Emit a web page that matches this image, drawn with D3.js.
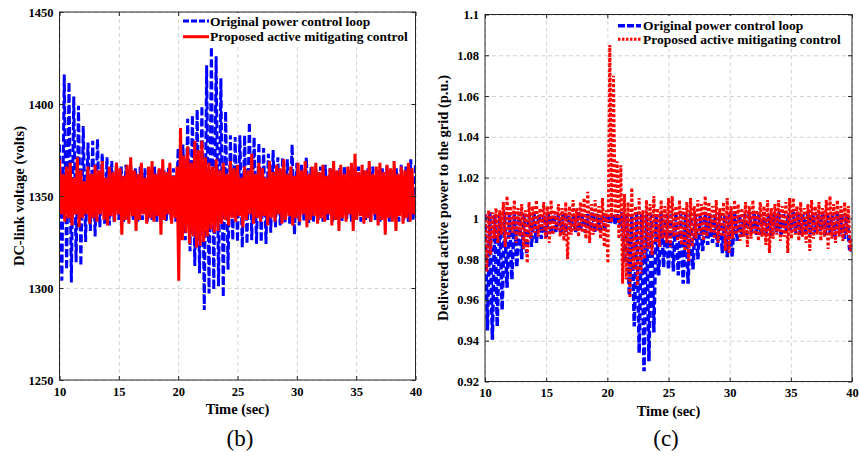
<!DOCTYPE html>
<html>
<head>
<meta charset="utf-8">
<script src="https://cdn.jsdelivr.net/npm/d3@7"></script>
<style>
  html, body { margin: 0; padding: 0; background: #ffffff; }
  svg { display: block; }
  text { font-family: "Liberation Serif", "Times New Roman", serif; }
</style>
</head>
<body>
<svg id="chart" width="859" height="457"></svg>
<script>
// ---------------- DATA ----------------
const timeStart = 10;
const timeEnd = 40;
const xTicks = [10, 15, 20, 25, 30, 35, 40];
const voltTicks = [1250, 1300, 1350, 1400, 1450];
const powerTicks = [0.92, 0.94, 0.96, 0.98, 1, 1.02, 1.04, 1.06, 1.08, 1.1];
const legendLabels = ["Original power control loop", "Proposed active mitigating control"];
const panelLabels = ["(b)", "(c)"];
const xTitle = "Time (sec)";
const yTitles = ["DC-link voltage (volts)", "Delivered active power to the grid (p.u.)"];

// samples alternate peak / trough; sample step in seconds
const originalStep = 0.2;
const proposedStep = 0.15;

// DC-link voltage, original power control loop (volts)
const dcOriginal = [
  1378,1304, 1416,1310, 1412,1303, 1404,1314, 1399,1312, 1388,1325, 1379,1331, 1380,1328, 1381,1333, 1373,1335,
  1371,1334, 1369,1336, 1368,1337, 1366,1336, 1367,1337, 1366,1337, 1365,1336, 1366,1337, 1365,1336, 1364,1337,
  1366,1336, 1365,1337, 1364,1336, 1366,1337, 1365,1336, 1376,1330, 1378,1326, 1392,1320, 1394,1312, 1397,1308,
  1399,1288, 1421,1297, 1431,1299, 1426,1301, 1414,1295, 1396,1310, 1383,1326, 1382,1325, 1383,1322, 1383,1324,
  1390,1326, 1382,1324, 1379,1325, 1376,1324, 1373,1330, 1375,1333, 1371,1334, 1371,1335, 1370,1335, 1378,1329,
  1368,1334, 1367,1336, 1371,1335, 1366,1336, 1365,1337, 1366,1336, 1367,1337, 1365,1336, 1364,1337, 1365,1336,
  1366,1337, 1364,1336, 1365,1337, 1366,1336, 1364,1337, 1365,1336, 1366,1337, 1364,1336, 1365,1337, 1366,1336,
  1364,1337, 1365,1336, 1367,1337, 1366,1336, 1370,1337,
  1368
];

// DC-link voltage, proposed active mitigating control (volts)
const dcProposed = [
  1370,1340, 1362,1336, 1366,1338, 1368,1334, 1360,1340, 1371,1333, 1364,1338, 1358,1340, 1366,1335, 1362,1338,
  1367,1336, 1364,1340, 1369,1337, 1360,1334, 1366,1339, 1363,1336, 1368,1340, 1365,1329, 1361,1337, 1367,1335,
  1371,1339, 1364,1331, 1362,1337, 1368,1340, 1360,1335, 1366,1338, 1369,1336, 1362,1339, 1365,1329, 1370,1337,
  1363,1340, 1368,1335, 1361,1338, 1366,1304, 1387,1326, 1372,1330, 1377,1324, 1368,1328, 1380,1322, 1375,1323,
  1380,1325, 1371,1328, 1368,1332, 1366,1330, 1370,1331, 1364,1335, 1368,1337, 1362,1334, 1369,1338, 1365,1336,
  1367,1339, 1360,1333, 1366,1337, 1364,1340, 1373,1335, 1362,1338, 1368,1336, 1365,1339, 1360,1334, 1369,1338,
  1363,1336, 1367,1340, 1365,1335, 1370,1337, 1362,1339, 1366,1334, 1361,1338, 1368,1336, 1364,1340, 1369,1333,
  1362,1337, 1366,1339, 1368,1335, 1363,1338, 1367,1336, 1361,1340, 1365,1334, 1369,1337, 1364,1331, 1367,1338,
  1362,1336, 1366,1340, 1368,1331, 1373,1337, 1363,1339, 1367,1335, 1364,1338, 1369,1336, 1362,1340, 1366,1334,
  1368,1337, 1363,1329, 1367,1338, 1365,1336, 1369,1331, 1362,1339, 1366,1335, 1364,1338, 1368,1336, 1365,1340,
  1350
];

// Delivered active power, original power control loop (p.u.)
const pOriginal = [
  1.002,0.945, 1.003,0.9405, 1.002,0.947, 1.002,0.955, 1.003,0.966, 1.002,0.970, 1.002,0.976, 1.003,0.980, 1.002,0.983, 1.002,0.986,
  1.003,0.988, 1.002,0.990, 1.002,0.991, 1.003,0.992, 1.002,0.993, 1.002,0.992, 1.003,0.993, 1.002,0.994, 1.002,0.993, 1.003,0.994,
  1.002,0.993, 1.002,0.994, 1.003,0.993, 1.002,0.994, 1.002,0.995, 1.002,0.997, 1.002,0.997, 1.002,0.996, 1.003,0.978, 1.002,0.962,
  1.002,0.947, 1.003,0.934, 1.002,0.925, 1.002,0.930, 1.002,0.944, 1.002,0.972, 1.003,0.976, 1.002,0.975, 1.002,0.974, 1.003,0.972,
  1.002,0.968, 1.002,0.968, 1.003,0.975, 1.002,0.980, 1.002,0.984, 1.003,0.987, 1.002,0.988, 1.002,0.986, 1.003,0.983, 1.002,0.981,
  1.002,0.981, 1.003,0.989, 1.002,0.991, 1.002,0.992, 1.003,0.993, 1.002,0.992, 1.002,0.991, 1.003,0.992, 1.002,0.991, 1.002,0.993,
  1.003,0.992, 1.002,0.993, 1.002,0.994, 1.003,0.993, 1.002,0.992, 1.002,0.993, 1.003,0.992, 1.002,0.993, 1.002,0.994, 1.003,0.992,
  1.002,0.993, 1.002,0.991, 1.003,0.992, 1.002,0.990, 1.002,0.985,
  0.984
];

// Delivered active power, proposed active mitigating control (p.u.)
const pProposed = [
  1.002,0.974, 1.004,0.982, 1.003,0.990, 1.005,0.988, 1.004,0.992, 1.008,0.986, 1.011,0.990, 1.006,0.993, 1.009,0.988, 1.005,0.991,
  1.007,0.985, 1.004,0.978, 1.008,0.990, 1.006,0.993, 1.009,0.991, 1.005,0.994, 1.008,0.990, 1.006,0.988, 1.009,0.992, 1.004,0.994,
  1.007,0.991, 1.005,0.989, 1.008,0.980, 1.006,0.992, 1.009,0.994, 1.005,0.991, 1.008,0.993, 1.010,0.990, 1.013,0.988, 1.007,0.992,
  1.009,0.994, 1.006,0.990, 1.010,0.986, 1.004,0.978, 1.085,0.998, 1.070,1.000, 1.028,0.990, 1.026,0.968, 1.012,0.970, 1.008,0.961,
  1.015,0.975, 1.006,0.967, 1.010,0.973, 1.004,0.980, 1.009,0.985, 1.007,0.982, 1.011,0.988, 1.005,0.986, 1.009,0.990, 1.006,0.988,
  1.010,0.986, 1.011,0.991, 1.006,0.989, 1.009,0.987, 1.005,0.984, 1.008,0.979, 1.010,0.986, 1.006,0.990, 1.009,0.992, 1.007,0.989,
  1.011,0.991, 1.008,0.993, 1.006,0.990, 1.009,0.988, 1.005,0.991, 1.008,0.984, 1.010,0.983, 1.006,0.990, 1.009,0.992, 1.007,0.989,
  1.005,0.991, 1.008,0.986, 1.006,0.990, 1.009,0.992, 1.004,0.989, 1.008,0.991, 1.006,0.987, 1.009,0.983, 1.005,0.990, 1.007,0.992,
  1.009,0.989, 1.006,0.991, 1.008,0.983, 1.010,0.990, 1.010,0.992, 1.006,0.989, 1.008,0.991, 1.005,0.988, 1.007,0.984, 1.009,0.990,
  1.006,0.992, 1.008,0.989, 1.005,0.991, 1.009,0.985, 1.011,0.990, 1.007,0.988, 1.009,0.991, 1.006,0.989, 1.008,0.992, 1.006,0.984,
  0.990
];

// ---------------- DRAWING ----------------
const svg = d3.select("#chart");
svg.append("rect").attr("width", 859).attr("height", 457).attr("fill", "#ffffff");

const BLUE = "#0000ff", RED = "#ff0000", AXIS = "#262626", GRID = "#d2d2d2";
const FONT = "'Liberation Serif','Times New Roman',serif";

function fmtPower(d) { return String(+d.toFixed(2)); }

function drawPanel(cfg, idx) {
  const { left, right, top, bottom, yDomain, yTicks, yFmt, blue, red, redDash, blueDash, legend } = cfg;
  const x = d3.scaleLinear().domain([timeStart, timeEnd]).range([left, right]);
  const y = d3.scaleLinear().domain(yDomain).range([bottom, top]);
  const g = svg.append("g");
  const w = right - left, h = bottom - top;

  // grid
  const gx = g.append("g").attr("transform", `translate(0,${bottom})`)
    .call(d3.axisBottom(x).tickValues(xTicks).tickSize(-h).tickFormat(""));
  const gy = g.append("g").attr("transform", `translate(${left},0)`)
    .call(d3.axisLeft(y).tickValues(yTicks).tickSize(-w).tickFormat(""));
  [gx, gy].forEach(a => {
    a.select(".domain").remove();
    a.selectAll("line").attr("stroke", GRID).attr("stroke-dasharray", "4,3").attr("stroke-width", 1);
  });

  // clip
  const clipId = "clip" + idx;
  svg.append("clipPath").attr("id", clipId).append("rect")
    .attr("x", left).attr("y", top).attr("width", w).attr("height", h);

  const lineOf = (step) => d3.line().x((d, i) => x(timeStart + i * step)).y(d => y(d));

  g.append("path").datum(blue).attr("clip-path", `url(#${clipId})`)
    .attr("d", lineOf(originalStep)).attr("fill", "none").attr("stroke", BLUE)
    .attr("stroke-width", cfg.blueWidth).attr("stroke-dasharray", blueDash).attr("stroke-linejoin", "miter");
  g.append("path").datum(red).attr("clip-path", `url(#${clipId})`)
    .attr("d", lineOf(proposedStep)).attr("fill", "none").attr("stroke", RED)
    .attr("stroke-width", cfg.redWidth).attr("stroke-dasharray", redDash).attr("stroke-linejoin", "miter");

  // axes with inward ticks
  const tick = 4;
  const ax = g.append("g").attr("transform", `translate(0,${bottom})`)
    .call(d3.axisBottom(x).tickValues(xTicks).tickSizeInner(-tick).tickSizeOuter(0).tickPadding(7));
  const axT = g.append("g").attr("transform", `translate(0,${top})`)
    .call(d3.axisTop(x).tickValues(xTicks).tickSizeInner(-tick).tickSizeOuter(0).tickFormat(""));
  const ay = g.append("g").attr("transform", `translate(${left},0)`)
    .call(d3.axisLeft(y).tickValues(yTicks).tickSizeInner(-tick).tickSizeOuter(0).tickPadding(6).tickFormat(yFmt));
  const ayR = g.append("g").attr("transform", `translate(${right},0)`)
    .call(d3.axisRight(y).tickValues(yTicks).tickSizeInner(-tick).tickSizeOuter(0).tickFormat(""));
  [ax, axT, ay, ayR].forEach(a => {
    a.select(".domain").remove();
    a.selectAll("line").attr("stroke", AXIS);
    a.selectAll("text").attr("fill", "#000").style("font-family", FONT)
      .style("font-weight", "bold").style("font-size", "12.5px");
  });
  g.append("rect").attr("x", left).attr("y", top).attr("width", w).attr("height", h)
    .attr("fill", "none").attr("stroke", AXIS).attr("stroke-width", 1);

  // titles
  g.append("text").attr("x", (left + right) / 2).attr("y", bottom + 34)
    .attr("text-anchor", "middle").style("font-family", FONT).style("font-weight", "bold")
    .style("font-size", "14.5px").text(xTitle);
  g.append("text").attr("transform", `translate(${cfg.yTitleX},${(top + bottom) / 2}) rotate(-90)`)
    .attr("text-anchor", "middle").style("font-family", FONT).style("font-weight", "bold")
    .style("font-size", "14.5px").text(yTitles[idx]);
  g.append("text").attr("x", cfg.panelX).attr("y", 446)
    .attr("text-anchor", "middle").style("font-family", FONT)
    .style("font-size", "23px").text(panelLabels[idx]);

  // legend
  const L = legend;
  g.append("rect").attr("x", L.x).attr("y", L.y).attr("width", L.w).attr("height", L.h).attr("fill", "#ffffff");
  const items = [
    { c: BLUE, dash: L.blueDash, width: cfg.blueWidth, yy: L.row1 },
    { c: RED, dash: L.redDash, width: cfg.redWidth, yy: L.row2 }
  ];
  items.forEach((it, i) => {
    g.append("line").attr("x1", L.sx1).attr("x2", L.sx2).attr("y1", it.yy).attr("y2", it.yy)
      .attr("stroke", it.c).attr("stroke-width", it.width).attr("stroke-dasharray", it.dash);
    g.append("text").attr("x", L.tx).attr("y", it.yy + 4.6)
      .style("font-family", FONT).style("font-weight", "bold").style("font-size", "13.5px")
      .attr("fill", "#000").text(legendLabels[i]);
  });
}

drawPanel({
  left: 59.5, right: 415.5, top: 12, bottom: 380,
  yDomain: [1250, 1450], yTicks: voltTicks, yFmt: d => String(d),
  blue: dcOriginal, red: dcProposed,
  blueWidth: 3, redWidth: 3, blueDash: "8,3", redDash: null,
  yTitleX: 24, panelX: 240,
  legend: { x: 180, y: 13, w: 234, h: 33, sx1: 183, sx2: 209, tx: 210, row1: 21, row2: 36.7,
            blueDash: "6,2", redDash: null }
}, 0);

drawPanel({
  left: 485, right: 852, top: 14.5, bottom: 381.5,
  yDomain: [0.92, 1.1], yTicks: powerTicks, yFmt: fmtPower,
  blue: pOriginal, red: pProposed,
  blueWidth: 3.5, redWidth: 3, blueDash: "7,3", redDash: "3,2",
  yTitleX: 448, panelX: 666,
  legend: { x: 615, y: 16, w: 236, h: 32, sx1: 618, sx2: 641, tx: 643, row1: 25.7, row2: 39.3,
            blueDash: "7,2", redDash: "2.5,1.5" }
}, 1);
</script>
</body>
</html>
